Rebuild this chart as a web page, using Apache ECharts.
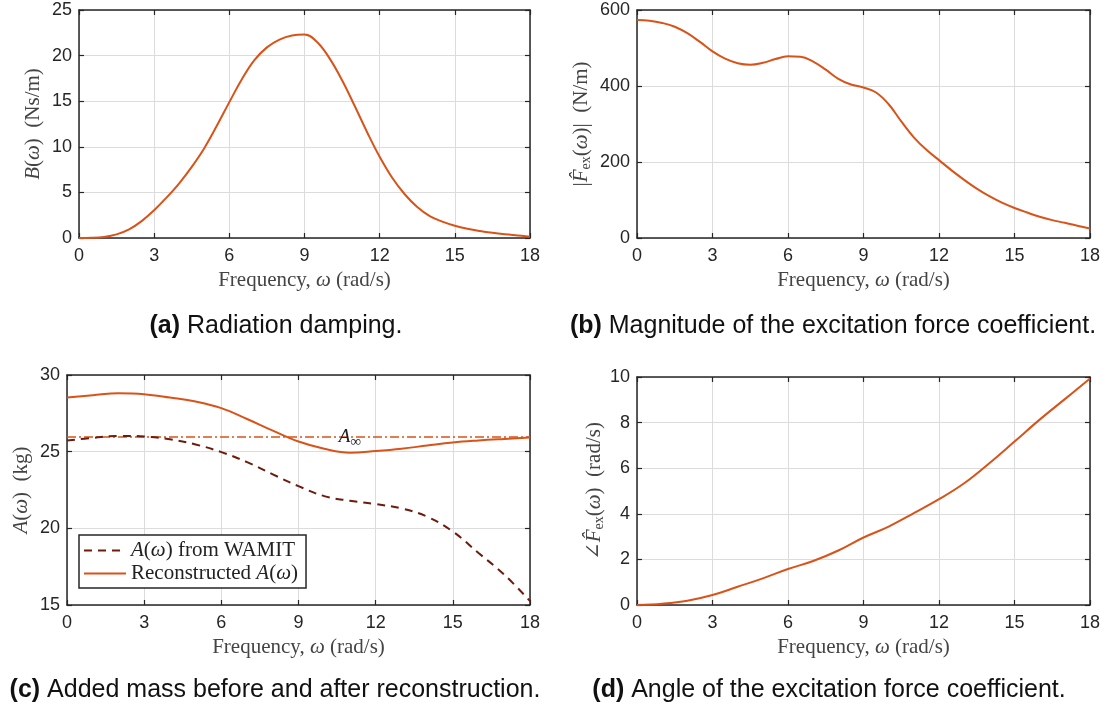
<!DOCTYPE html>
<html>
<head>
<meta charset="utf-8">
<script src="https://cdn.jsdelivr.net/npm/echarts@6/dist/echarts.min.js"></script>
<style>
html,body{margin:0;padding:0;background:#fff;}
#chart{width:1116px;height:713px;}
</style>
</head>
<body>
<div id="chart"></div>
<script>
// ---------------- data ----------------
const freqHalf = [0,0.5,1,1.5,2,2.5,3,3.5,4,4.5,5,5.5,6,6.5,7,7.5,8,8.5,9,9.5,10,10.5,11,11.5,12,12.5,13,13.5,14,14.5,15,15.5,16,16.5,17,17.5,18];
const freqOne = [0,1,2,3,4,5,6,7,8,9,10,11,12,13,14,15,16,17,18];

// (a) radiation damping B(w)
const dampingB = [0,0.02,0.12,0.4,0.95,1.85,3.05,4.45,6.0,7.8,9.85,12.3,14.9,17.4,19.5,20.9,21.75,22.2,22.3,21.5,19.7,17.3,14.5,11.6,8.9,6.6,4.8,3.4,2.4,1.8,1.35,1.02,0.77,0.57,0.41,0.28,0.15];

// (b) |Fex(w)|
const excMag = [574,572,566,556,539,516,491,472,460,456,461,471,478,477,464,443,419,404,396,383,352,307,265,232,205,178,153,130,110,93,79,67,56,47,40,32,25];

// (c) added mass
const addedWamit = [25.73,25.9,26.03,25.99,25.81,25.47,24.97,24.32,23.52,22.75,22.1,21.8,21.58,21.3,20.76,19.79,18.39,16.98,15.26];
const addedRecon = [28.53,28.68,28.81,28.75,28.53,28.27,27.84,27.13,26.37,25.66,25.19,24.93,25.04,25.19,25.4,25.6,25.73,25.83,25.92];
const aInf = 25.95;
const aInfLabelFreq = 11.0;

// (d) angle of Fex(w)
const excAngle = [0,0.06,0.19,0.44,0.8,1.17,1.58,1.93,2.39,2.96,3.44,4.03,4.64,5.34,6.22,7.17,8.13,9.03,9.93];

// tick settings
const xTicks = {min:0, max:18, interval:3};
const yTicksA = {min:0, max:25, interval:5};
const yTicksB = {min:0, max:600, interval:200};
const yTicksC = {min:15, max:30, interval:5};
const yTicksD = {min:0, max:10, interval:2};

const captions = [
  {tag:'(a)', text:' Radiation damping.'},
  {tag:'(b)', text:' Magnitude of the excitation force coefficient.'},
  {tag:'(c)', text:' Added mass before and after reconstruction.'},
  {tag:'(d)', text:' Angle of the excitation force coefficient.'}
];

// ---------------- styles ----------------
const ORANGE = '#D95319';
const DARKRED = '#6E1A0C';
const AXIS = '#262626';
const GRIDC = '#dcdcdc';
const SANS = '"Liberation Sans", Arial, Helvetica, sans-serif';
const SERIF = '"Liberation Serif", "DejaVu Serif", serif';
const NAMEC = '#444';

const nameRich = {
  i: {fontFamily: SERIF, fontStyle: 'italic', fontSize: 21, color: NAMEC},
  r: {fontFamily: SERIF, fontSize: 21, color: NAMEC},
  s: {fontFamily: SERIF, fontSize: 14, color: NAMEC, verticalAlign: 'bottom', padding: [9,0,0,0]}
};

const grids = [
  {left: 79, top: 10, width: 451, height: 228},
  {left: 637, top: 10, width: 453, height: 228},
  {left: 67, top: 375, width: 463, height: 230},
  {left: 637, top: 377, width: 453, height: 228}
];

const yNames = [
  '{i|B}{r|(}{i|ω}{r|)  (Ns/m)}',
  '{r||}{i|F̂}{s|ex}{r|(}{i|ω}{r|)|  (N/m)}',
  '{i|A}{r|(}{i|ω}{r|)  (kg)}',
  '{r|∠}{i|F̂}{s|ex}{r|(}{i|ω}{r|)  (rad/s)}'
];
const yNameGaps = [35, 44, 35, 30];
const yTickSets = [yTicksA, yTicksB, yTicksC, yTicksD];

const lineAx = {show: true, onZero: false, lineStyle: {color: AXIS, width: 1.5}};
const tickAx = {show: true, inside: true, length: 5, lineStyle: {color: AXIS, width: 1.2}};

const xAxes = [], yAxes = [];
grids.forEach((g, gi) => {
  xAxes.push({
    type: 'value', gridIndex: gi, position: 'bottom',
    min: xTicks.min, max: xTicks.max, interval: xTicks.interval,
    axisLine: lineAx, axisTick: tickAx,
    axisLabel: {color: AXIS, fontFamily: SANS, fontSize: 18, margin: 9},
    splitLine: {show: true, lineStyle: {color: GRIDC, width: 1}},
    name: '{r|Frequency, }{i|ω}{r| (rad/s)}', nameLocation: 'middle', nameGap: 32,
    nameTextStyle: {rich: nameRich}
  });
  xAxes.push({
    type: 'value', gridIndex: gi, position: 'top',
    min: xTicks.min, max: xTicks.max, interval: xTicks.interval,
    axisLine: lineAx, axisTick: tickAx,
    axisLabel: {show: false}, splitLine: {show: false}
  });
  const yt = yTickSets[gi];
  yAxes.push({
    type: 'value', gridIndex: gi, position: 'left',
    min: yt.min, max: yt.max, interval: yt.interval,
    axisLine: lineAx, axisTick: tickAx,
    axisLabel: {color: AXIS, fontFamily: SANS, fontSize: 18, margin: 7},
    splitLine: {show: true, lineStyle: {color: GRIDC, width: 1}},
    name: yNames[gi], nameLocation: 'middle', nameGap: yNameGaps[gi], nameRotate: 90,
    nameTextStyle: {rich: nameRich}
  });
  yAxes.push({
    type: 'value', gridIndex: gi, position: 'right',
    min: yt.min, max: yt.max, interval: yt.interval,
    axisLine: lineAx, axisTick: tickAx,
    axisLabel: {show: false}, splitLine: {show: false}
  });
});

const zip = (xs, ys) => xs.map((x, i) => [x, ys[i]]);

const baseLine = (gi, name, xs, ys, color, type, width) => ({
  type: 'line', name: name, xAxisIndex: gi * 2, yAxisIndex: gi * 2,
  data: zip(xs, ys), symbol: 'none', showSymbol: false, smooth: 0.4,
  lineStyle: {color: color, width: width, type: type}, itemStyle: {color: color},
  silent: true, animation: false, z: 3
});

const series = [
  baseLine(0, 'B', freqHalf, dampingB, ORANGE, 'solid', 2),
  baseLine(1, 'Fmag', freqHalf, excMag, ORANGE, 'solid', 2),
  Object.assign(baseLine(2, 'Ainf', [xTicks.min, xTicks.max], [aInf, aInf], ORANGE, [9, 3, 2, 3], 1.5), {
    smooth: false,
    markPoint: {
      symbol: 'circle', symbolSize: 0, silent: true,
      data: [{coord: [aInfLabelFreq, aInf]}],
      label: {
        show: true, position: 'inside', offset: [0, 0],
        formatter: '{a|A}{s|∞}',
        rich: {
          a: {fontFamily: SERIF, fontStyle: 'italic', fontSize: 19, color: '#222'},
          s: {fontFamily: SERIF, fontSize: 15, color: '#222', verticalAlign: 'bottom', padding: [9,0,0,0]}
        }
      }
    }
  }),
  baseLine(2, 'wamit', freqOne, addedWamit, DARKRED, [8, 6], 2),
  baseLine(2, 'recon', freqOne, addedRecon, ORANGE, 'solid', 2),
  baseLine(3, 'angle', freqOne, excAngle, ORANGE, 'solid', 2)
];

const legendNames = {
  wamit: '{i|A}{r|(}{i|ω}{r|) from WAMIT}',
  recon: '{r|Reconstructed }{i|A}{r|(}{i|ω}{r|)}'
};

const capX = [276, 833, 275, 829];
const capY = [326, 326, 690, 690];
const graphic = captions.map((c, i) => ({
  type: 'text', x: capX[i], y: capY[i],
  style: {
    text: '{b|' + c.tag + '}{n|' + c.text + '}',
    align: 'center', verticalAlign: 'middle',
    rich: {
      b: {fontFamily: SANS, fontWeight: 'bold', fontSize: 25, fill: '#111'},
      n: {fontFamily: SANS, fontSize: 25, fill: '#111'}
    }
  }
}));

const chart = echarts.init(document.getElementById('chart'), null, {renderer: 'canvas'});
chart.setOption({
  animation: false,
  backgroundColor: '#fff',
  grid: grids,
  xAxis: xAxes,
  yAxis: yAxes,
  legend: {
    data: ['wamit', 'recon'],
    orient: 'vertical', left: 79, top: 535,
    backgroundColor: '#fff', borderColor: AXIS, borderWidth: 1.5, borderRadius: 0,
    padding: [5, 8, 4, 4], itemGap: 2, itemWidth: 42, itemHeight: 14,
    selectedMode: false,
    itemStyle: {color: 'transparent', borderColor: 'transparent', borderWidth: 0, opacity: 0},
    formatter: name => legendNames[name],
    textStyle: {
      rich: {
        i: {fontFamily: SERIF, fontStyle: 'italic', fontSize: 21, color: '#222'},
        r: {fontFamily: SERIF, fontSize: 21, color: '#222'}
      }
    }
  },
  graphic: graphic,
  series: series
});
</script>
</body>
</html>
